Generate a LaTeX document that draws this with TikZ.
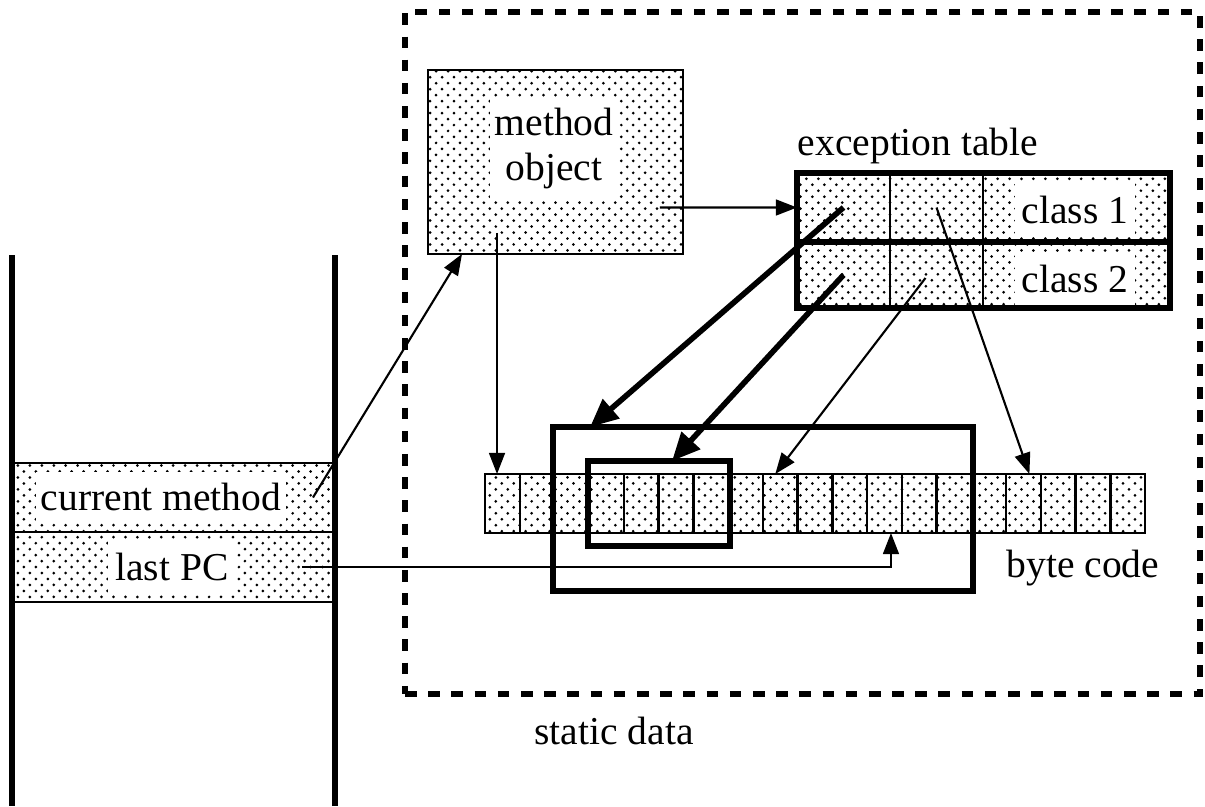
\documentclass[tikz,border=0pt]{standalone}
\usepackage{fontspec}
\setmainfont{Liberation Serif}
\usetikzlibrary{arrows.meta,patterns,calc}
\pgfdeclarepatternformonly{mydots}{\pgfqpoint{-1pt}{-1pt}}{\pgfqpoint{4.5pt}{4.5pt}}{\pgfqpoint{6.8pt}{6.8pt}}{%
  \pgfpathcircle{\pgfqpoint{0pt}{0pt}}{0.85pt}%
  \pgfpathcircle{\pgfqpoint{3.4pt}{3.4pt}}{0.85pt}%
  \pgfusepath{fill}}
\begin{document}
\begin{tikzpicture}[x=0.02cm,y=-0.02cm,
  lbl/.style={font=\fontsize{22.5}{26}\selectfont, inner sep=0pt},
  wlbl/.style={lbl, fill=white, inner xsep=3.5pt, inner ysep=6pt},
  dotbox/.style={draw, line width=1.4pt, pattern=mydots, inner sep=0pt, outer sep=0pt},
  thickbox/.style={draw, line width=3.2pt, inner sep=0pt, outer sep=0pt},
  thinarrow/.style={line width=1.2pt, -{Triangle[length=12pt,width=9pt]}},
  thickarrow/.style={line width=3.2pt, -{Triangle[length=16pt,width=14pt]}},
]
\useasboundingbox (0,0) rectangle (1205,806);

% static data region
\node[draw, line width=3pt, dash pattern=on 6.6pt off 6.6pt, inner sep=0pt, outer sep=0pt,
      minimum width=15.9cm, minimum height=13.64cm] (static) at (802.5,353) {};
\node[lbl, anchor=base] (staticlbl) at (614,744) {static data};

% stack
\node[dotbox, minimum width=6.46cm, minimum height=1.38cm] (cm) at (173.5,497.5) {};
\node[dotbox, minimum width=6.46cm, minimum height=1.40cm] (lpc) at (173.5,567) {};
\draw[line width=3.4pt] (12,255) -- (12,806) (335,255) -- (335,806);
\node[wlbl, anchor=base, inner xsep=3pt, inner ysep=6pt] (cmt) at (161,510) {current method};
\node[wlbl, anchor=base, inner xsep=4.5pt, inner ysep=8pt] (lpct) at (172,580) {last PC};

% method object
\node[dotbox, minimum width=5.1cm, minimum height=3.68cm] (mo) at (555.5,162) {};
\node[wlbl, align=center, inner xsep=2.5pt, inner ysep=5.5pt] (mot) at (554,148.5) {method\\object};

% exception table
\node[lbl, anchor=base] (etl) at (918,155) {exception table};
\node[dotbox, minimum width=1.86cm, minimum height=1.38cm] (e11) at (843.5,207.5) {};
\node[dotbox, minimum width=1.86cm, minimum height=1.38cm] (e12) at (936.5,207.5) {};
\node[dotbox, minimum width=3.74cm, minimum height=1.38cm] (e13) at (1076.5,207.5) {};
\node[dotbox, minimum width=1.86cm, minimum height=1.32cm] (e21) at (843.5,275) {};
\node[dotbox, minimum width=1.86cm, minimum height=1.32cm] (e22) at (936.5,275) {};
\node[dotbox, minimum width=3.74cm, minimum height=1.32cm] (e23) at (1076.5,275) {};
\draw[line width=3.2pt] (e11.north west) rectangle (e23.south east);
\draw[line width=3pt] (e21.north west) -- (e23.north east);
\node[wlbl, anchor=base, inner xsep=4pt, inner ysep=7pt] (c1) at (1075,223) {class 1};
\node[wlbl, anchor=base, inner xsep=4pt, inner ysep=7pt] (c2) at (1075,292) {class 2};

% byte code
\foreach \i in {1,...,19}
  \node[dotbox, minimum width=0.69474cm, minimum height=1.18cm] (b\i) at ({485+(\i-0.5)*34.737},503.5) {};
\node[lbl, anchor=base] (bcl) at (1083,577) {byte code};

% ranges
\node[thickbox, minimum width=8.4cm, minimum height=3.28cm] (rng1) at (763,509) {};
\node[thickbox, line width=3pt, minimum width=2.84cm, minimum height=1.7cm] (rng2) at (659,503.5) {};

% connectors
\draw[thinarrow] ($(cm.east)+(-22,0)$) -- ($(mo.south west)+(34,0)$);
\draw[thinarrow] ($(mo.south east)+(-23,-46.5)$) -- (e11.west);
\coordinate (mod) at ($(mo.south west)+(69,-21)$);
\draw[thinarrow] (mod) -- (mod |- b1.north);
\draw[thickarrow] (e11.center) -- ($(rng1.north west)+(37,0)$);
\draw[thickarrow] (e21.center) -- ($(rng2.north)+(13,0)$);
\draw[thinarrow] ($(e22.center)+(-11,3)$) -- ($(b9.north)+(-5,0)$);
\draw[thinarrow] (e12.center) -- ($(b16.north)+(6,0)$);
\coordinate (pcend) at ($(b12.south)+(6.5,0)$);
\draw[thinarrow] ($(lpc.east)+(-33,0)$) -| (pcend);
\end{tikzpicture}
\end{document}
